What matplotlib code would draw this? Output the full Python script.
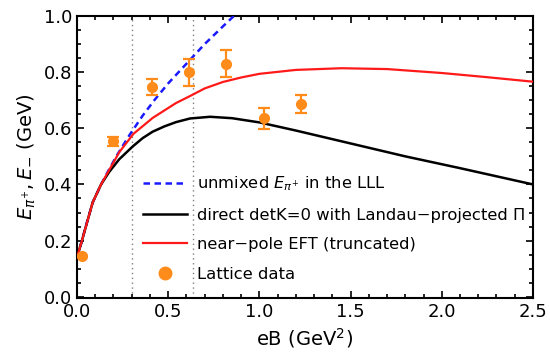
import numpy as np
import matplotlib.pyplot as plt
from matplotlib.ticker import MultipleLocator
from matplotlib.lines import Line2D

plt.rcParams['font.family'] = ['DejaVu Sans']
plt.rcParams['mathtext.fontset'] = 'dejavusans'

# curves
eb_blue = [0, 0.025, 0.05, 0.086, 0.132, 0.177, 0.22, 0.287, 0.36, 0.424, 0.5, 0.6, 0.7, 0.8, 0.86]
e_blue = [0.14, 0.195, 0.255, 0.336, 0.40, 0.455, 0.505, 0.575, 0.645, 0.70, 0.76, 0.83, 0.90, 0.963, 1.0]

eb_red = [0, 0.025, 0.05, 0.086, 0.132, 0.177, 0.232, 0.309, 0.415, 0.543, 0.62, 0.7, 0.8, 0.9, 1.0,
          1.2, 1.45, 1.7, 2.0, 2.25, 2.5]
e_red = [0.14, 0.195, 0.253, 0.336, 0.40, 0.452, 0.515, 0.58, 0.637, 0.69, 0.715, 0.742, 0.765, 0.781, 0.794,
         0.808, 0.814, 0.811, 0.797, 0.782, 0.766]

eb_black = [0, 0.025, 0.05, 0.086, 0.132, 0.177, 0.232, 0.305, 0.36, 0.415, 0.48, 0.543, 0.62, 0.73, 0.85, 1.0,
            1.2, 1.5, 1.8, 2.1, 2.5]
e_black = [0.14, 0.195, 0.253, 0.336, 0.40, 0.445, 0.49, 0.535, 0.565, 0.588, 0.607, 0.622, 0.635, 0.641, 0.636, 0.621,
           0.592, 0.546, 0.50, 0.458, 0.40]

# lattice points
eb_lat = [0.027, 0.2, 0.41, 0.614, 0.817, 1.025, 1.226]
e_lat = [0.145, 0.553, 0.748, 0.80, 0.83, 0.635, 0.688]
err_lat = [0.0, 0.017, 0.028, 0.048, 0.048, 0.039, 0.032]

vlines = [0.3, 0.635]

orange = '#ff8c1a'

fig = plt.figure(figsize=(5.5, 3.64), dpi=100)
ax = fig.add_axes([0.14, 0.181, 0.829, 0.775])

for v in vlines:
    ax.axvline(v, color='gray', ls=(0, (1, 2.5)), lw=1.0, zorder=1)

l1, = ax.plot(eb_blue, e_blue, color='#1a1aff', ls=(0, (2.6, 1.8)), lw=1.8, zorder=3)
l2, = ax.plot(eb_black, e_black, color='black', lw=1.8, zorder=3)
l3, = ax.plot(eb_red, e_red, color='#ff1a1a', lw=1.6, zorder=3)
ax.errorbar(eb_lat, e_lat, yerr=err_lat, fmt='o', color=orange, ms=7,
            elinewidth=1.6, capsize=4, capthick=1.6, zorder=4)
dot = Line2D([], [], marker='o', ls='none', color=orange, ms=9)

ax.set_xlim(0, 2.5)
ax.set_ylim(-0.005, 1.0)
ax.xaxis.set_major_locator(MultipleLocator(0.5))
ax.xaxis.set_minor_locator(MultipleLocator(0.1))
ax.yaxis.set_major_locator(MultipleLocator(0.2))
ax.yaxis.set_minor_locator(MultipleLocator(0.05))
ax.tick_params(which='both', direction='in', top=True, right=True, labelsize=13, width=1.2)
ax.tick_params(which='major', length=5)
ax.tick_params(which='minor', length=3)
for s in ax.spines.values():
    s.set_linewidth(1.5)

ax.set_xlabel('eB (GeV$^2$)', fontsize=14)
ax.set_ylabel('$E_{\\pi^{+}}, E_{-}$ (GeV)', fontsize=14)

labels = ['unmixed $E_{\\pi^{+}}$ in the LLL',
          'direct detK=0 with Landau\u2212projected \u03a0',
          'near\u2212pole EFT (truncated)',
          'Lattice data']
ax.legend([l1, l2, l3, dot], labels, loc='upper left', bbox_to_anchor=(0.145, 0.438), frameon=False,
          fontsize=11.8, handlelength=2.7, handletextpad=0.6, labelspacing=0.88,
          borderaxespad=0, borderpad=0)

fig.savefig('out.png', dpi=100)
